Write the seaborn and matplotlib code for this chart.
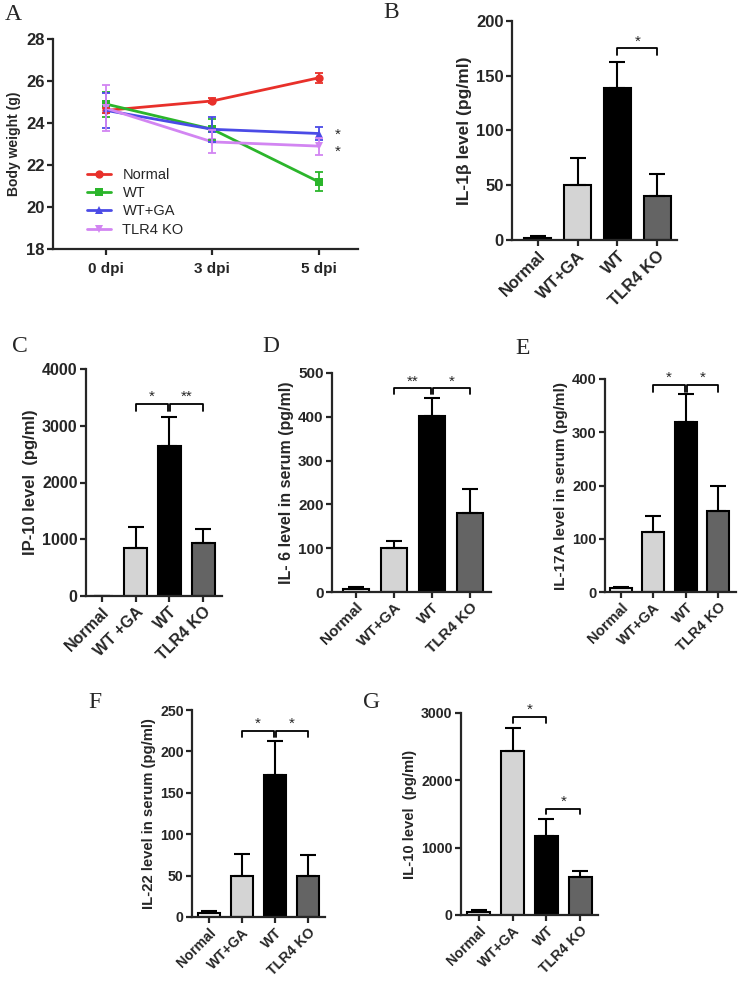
import numpy as np
import pandas as pd
import seaborn as sns
import matplotlib.pyplot as plt

# ---- data ----
days = ['0 dpi', '3 dpi', '5 dpi']
groups_a = ['Normal', 'WT', 'WT+GA', 'TLR4 KO']
weight = {
    'Normal': [24.6, 25.05, 26.15],
    'WT': [24.9, 23.7, 21.2],
    'WT+GA': [24.6, 23.7, 23.5],
    'TLR4 KO': [24.7, 23.1, 22.9],
}
weight_err = {
    'Normal': [0.1, 0.12, 0.25],
    'WT': [0.6, 0.5, 0.45],
    'WT+GA': [0.85, 0.6, 0.3],
    'TLR4 KO': [1.1, 0.55, 0.4],
}

cats = ['Normal', 'WT+GA', 'WT', 'TLR4 KO']
cats_c = ['Normal', 'WT +GA', 'WT', 'TLR4 KO']

il1b = [2, 50, 139, 40]
il1b_err = [1.5, 25, 24, 20]
ip10 = [0, 850, 2640, 940]
ip10_err = [0, 360, 520, 240]
il6 = [7, 100, 402, 180]
il6_err = [5, 17, 40, 55]
il17a = [8, 112, 320, 153]
il17a_err = [2, 30, 52, 47]
il22 = [5, 50, 172, 49]
il22_err = [2.5, 26, 40, 26]
il10 = [40, 2430, 1180, 565]
il10_err = [35, 350, 250, 85]

bar_colors = ['#f4f4f4', '#d4d4d4', '#000000', '#646464']
line_colors = {'Normal': '#e8302a', 'WT': '#2bb52b', 'WT+GA': '#4b4be6', 'TLR4 KO': '#d285f2'}
line_markers = {'Normal': 'o', 'WT': 's', 'WT+GA': '^', 'TLR4 KO': 'v'}

sns.set_style('ticks')
plt.rcParams['font.family'] = ['Liberation Sans', 'DejaVu Sans']
plt.rcParams['font.weight'] = 'bold'
plt.rcParams['axes.labelweight'] = 'bold'
plt.rcParams['axes.linewidth'] = 1.6
plt.rcParams['xtick.major.width'] = 1.6
plt.rcParams['ytick.major.width'] = 1.6
plt.rcParams['xtick.major.size'] = 4
plt.rcParams['ytick.major.size'] = 4

fig = plt.figure(figsize=(7.38, 9.81), dpi=100)

W, H = 738.0, 981.0


def axes_px(l, t, r, b):
    return fig.add_axes([l / W, 1 - b / H, (r - l) / W, (b - t) / H])


def panel_label(x, y, s):
    fig.text(x / W, 1 - y / H, s, family='Liberation Serif', fontsize=17,
             fontweight='normal', ha='left', va='center')


def bracket(ax, x1, x2, y, leg, star):
    ax.plot([x1, x1, x2, x2], [y - leg, y, y, y - leg], color='black', lw=1.3,
            clip_on=False)
    ax.text((x1 + x2) / 2, y, star, ha='center', va='bottom', fontsize=11,
            fontweight='normal')


def bar_panel(ax, labels, vals, errs, ymax, ystep, ylabel, xlim, fs):
    df = pd.DataFrame({'group': labels, 'value': vals})
    sns.barplot(data=df, x='group', y='value', hue='group', palette=bar_colors,
                legend=False, width=0.68, edgecolor='black', linewidth=1.5,
                errorbar=None, ax=ax)
    x = np.arange(len(labels))
    ax.errorbar(x, vals, yerr=[np.zeros(len(errs)), errs], fmt='none',
                ecolor='black', elinewidth=1.5, capsize=6, capthick=1.5, zorder=1)
    ax.set_ylim(0, ymax)
    ax.set_yticks(np.arange(0, ymax + 1, ystep))
    ax.set_xlim(*xlim)
    ax.set_xlabel('')
    ax.set_ylabel(ylabel, fontsize=fs, labelpad=3)
    ax.tick_params(axis='y', labelsize=fs - 0.5, pad=2)
    ax.tick_params(axis='x', pad=2)
    plt.setp(ax.get_xticklabels(), rotation=45, ha='right', rotation_mode='anchor',
             fontsize=fs - 0.5)
    sns.despine(ax=ax)


# ---- A: body weight ----
axA = axes_px(53, 39, 358, 249)
rows = []
for g in groups_a:
    for i, d in enumerate(days):
        rows.append({'day': i, 'group': g, 'weight': weight[g][i]})
dfa = pd.DataFrame(rows)
sns.lineplot(data=dfa, x='day', y='weight', hue='group', style='group',
             palette=line_colors, markers=line_markers, dashes=False,
             markersize=6, markeredgewidth=0, linewidth=2, ax=axA)
for g in groups_a:
    axA.errorbar(np.arange(3), weight[g], yerr=weight_err[g], fmt='none',
                 ecolor=line_colors[g], elinewidth=1.3, capsize=3, capthick=1.3)
axA.set_xlim(-0.5, 2.37)
axA.set_ylim(18, 28)
axA.set_yticks([18, 20, 22, 24, 26, 28])
axA.set_xticks([0, 1, 2])
axA.set_xticklabels(days)
axA.set_xlabel('')
axA.set_ylabel('Body weight (g)', fontsize=10)
axA.tick_params(axis='y', labelsize=12, pad=2)
axA.tick_params(axis='x', labelsize=11, pad=5)
axA.text(2.15, 23.45, '*', ha='left', va='center', fontsize=11, fontweight='normal')
axA.text(2.15, 22.65, '*', ha='left', va='center', fontsize=11, fontweight='normal')
leg = axA.legend(loc='upper left', bbox_to_anchor=(0.07, 0.45), frameon=False,
                 fontsize=10.5, handlelength=1.6, labelspacing=0.3)
for t in leg.get_texts():
    t.set_fontweight('normal')
sns.despine(ax=axA)

# ---- B: IL-1b ----
axB = axes_px(512, 21, 677, 240)
bar_panel(axB, cats, il1b, il1b_err, 200, 50, 'IL-1\u03b2 level (pg/ml)', (-0.65, 3.5), 12.5)
bracket(axB, 2, 3, 175, 6, '*')

# ---- C: IP-10 ----
axC = axes_px(86, 369, 222, 596)
bar_panel(axC, cats_c, ip10, ip10_err, 4000, 1000, 'IP-10 level  (pg/ml)', (-0.47, 3.56), 12)
bracket(axC, 1, 1.97, 3380, 120, '*')
bracket(axC, 2.03, 3, 3380, 120, '**')

# ---- D: IL-6 ----
axD = axes_px(332, 373, 491, 592)
bar_panel(axD, cats, il6, il6_err, 500, 100, 'IL- 6 level in serum (pg/ml)', (-0.63, 3.55), 11.5)
bracket(axD, 1, 1.97, 465, 14, '**')
bracket(axD, 2.03, 3, 465, 14, '*')

# ---- E: IL-17A ----
axE = axes_px(605, 379, 736, 592)
bar_panel(axE, cats, il17a, il17a_err, 400, 100, 'IL-17A level in serum (pg/ml)', (-0.49, 3.55), 11)
bracket(axE, 1, 1.97, 389, 13, '*')
bracket(axE, 2.03, 3, 389, 13, '*')

# ---- F: IL-22 ----
axF = axes_px(192, 710, 325, 917)
bar_panel(axF, cats, il22, il22_err, 250, 50, 'IL-22 level in serum (pg/ml)', (-0.52, 3.52), 10.7)
bracket(axF, 1, 1.97, 225, 8, '*')
bracket(axF, 2.03, 3, 225, 8, '*')

# ---- G: IL-10 ----
axG = axes_px(461, 713, 598, 915)
bar_panel(axG, cats, il10, il10_err, 3000, 1000, 'IL-10 level  (pg/ml)', (-0.53, 3.53), 10.7)
bracket(axG, 1, 2, 2940, 90, '*')
bracket(axG, 2, 3, 1575, 80, '*')

panel_label(5, 14, 'A')
panel_label(383, 13, 'B')
panel_label(12, 347, 'C')
panel_label(262, 347, 'D')
panel_label(515, 349, 'E')
panel_label(88, 702, 'F')
panel_label(363, 702, 'G')

fig.savefig('out.png', dpi=100)
